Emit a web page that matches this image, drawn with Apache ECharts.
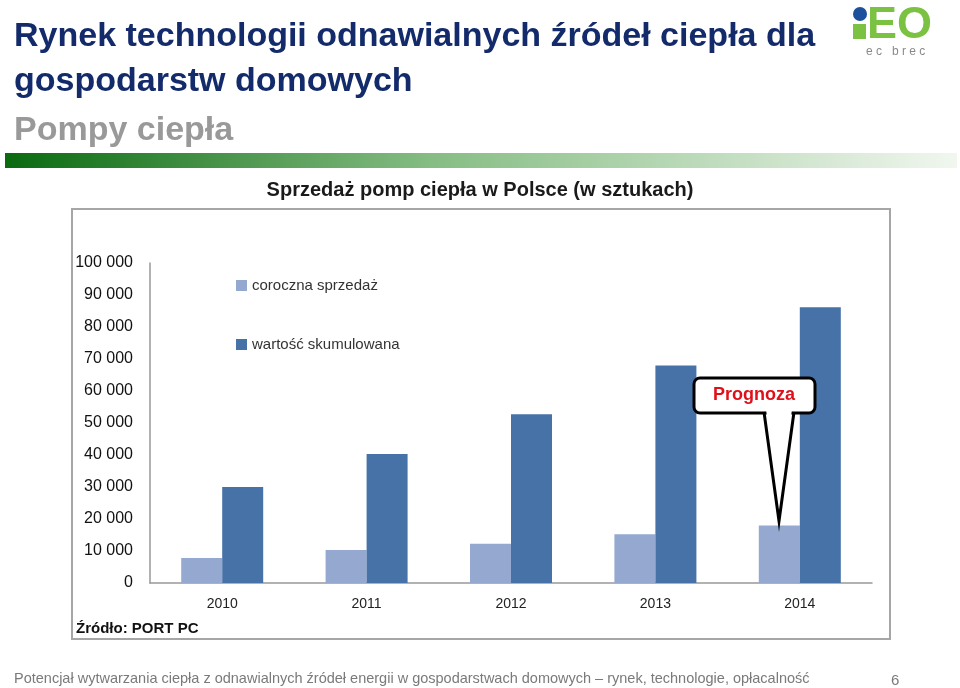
<!DOCTYPE html>
<html lang="pl">
<head>
<meta charset="utf-8">
<title>Pompy ciepła</title>
<script src="https://cdn.jsdelivr.net/npm/echarts@6/dist/echarts.min.js"></script>
<style>
  html, body { margin: 0; padding: 0; background: #fff; }
  #main { width: 960px; height: 688px; }
</style>
</head>
<body>
<div id="main"></div>
<script>
// dane
var years = ['2010', '2011', '2012', '2013', '2014'];
var annualSales = [7800, 10300, 12300, 15200, 18000];
var cumulative = [30000, 40300, 52700, 68000, 86200];
var seriesNames = ['coroczna sprzedaż', 'wartość skumulowana'];

var font = '"Liberation Sans", Arial, sans-serif';

function fmt(v) {
  return String(v).replace(/\B(?=(\d{3})+(?!\d))/g, ' ');
}

var myChart = echarts.init(document.getElementById('main'));

var option = {
  backgroundColor: '#fff',
  animation: false,
  textStyle: { fontFamily: font },
  grid: { left: 150, right: 88, top: 263, bottom: 105 },
  legend: {
    orient: 'vertical',
    left: 231, top: 273,
    itemWidth: 11, itemHeight: 11,
    itemGap: 44,
    icon: 'rect',
    textStyle: { fontSize: 15, color: '#333', fontFamily: font },
    data: seriesNames
  },
  xAxis: {
    type: 'category',
    data: years,
    axisLine: { lineStyle: { color: '#999', width: 1.5 } },
    axisTick: { show: false },
    axisLabel: { fontSize: 14, color: '#222', margin: 14 }
  },
  yAxis: {
    type: 'value',
    min: 0, max: 100000, interval: 10000,
    axisLine: { show: true, lineStyle: { color: '#999', width: 1.5 } },
    axisTick: { show: false },
    splitLine: { show: false },
    axisLabel: { fontSize: 16, color: '#111', margin: 17, formatter: fmt }
  },
  series: [
    {
      name: seriesNames[0], type: 'bar', data: annualSales,
      barWidth: 41, barGap: '0%',
      itemStyle: { color: '#95a9d0' }
    },
    {
      name: seriesNames[1], type: 'bar', data: cumulative,
      barWidth: 41,
      itemStyle: { color: '#4672a8' }
    }
  ],
  graphic: [
    // nagłówek slajdu
    { type: 'text', left: 14, top: 20, style: { text: 'Rynek technologii odnawialnych źródeł ciepła dla', font: 'bold 34px ' + font, fill: '#132a6b' } },
    { type: 'text', left: 14, top: 65, style: { text: 'gospodarstw domowych', font: 'bold 34px ' + font, fill: '#132a6b' } },
    { type: 'text', left: 14, top: 114, style: { text: 'Pompy ciepła', font: 'bold 34px ' + font, fill: '#999999' } },
    {
      type: 'rect', shape: { x: 5, y: 153, width: 952, height: 15 },
      style: {
        fill: new echarts.graphic.LinearGradient(0, 0, 1, 0, [
          { offset: 0, color: '#0a6a10' },
          { offset: 0.45, color: '#86bd84' },
          { offset: 1, color: '#f1f7ef' }
        ])
      }
    },
    // logo
    { type: 'circle', shape: { cx: 860, cy: 14, r: 7 }, style: { fill: '#1d4f9a' } },
    { type: 'rect', shape: { x: 853, y: 24, width: 13, height: 15 }, style: { fill: '#7cc242' } },
    { type: 'text', left: 867, top: 3, style: { text: 'EO', font: 'bold 45px ' + font, fill: '#7cc242' } },
    { type: 'text', left: 866, top: 46, style: { text: 'e c   b r e c', font: '12px ' + font, fill: '#8a8a8a' } },
    // ramka wykresu
    { type: 'rect', shape: { x: 72, y: 209, width: 818, height: 430 }, style: { fill: 'none', stroke: '#a6a6a6', lineWidth: 2 } },
    { type: 'text', left: 'center', top: 180, style: { text: 'Sprzedaż pomp ciepła w Polsce (w sztukach)', font: 'bold 20px ' + font, fill: '#1a1a1a' } },
    { type: 'text', left: 76, top: 621, style: { text: 'Źródło: PORT PC', font: 'bold 15px ' + font, fill: '#111' } },
    // dymek "Prognoza"
    { type: 'rect', z: 10, shape: { x: 694, y: 378, width: 121, height: 35, r: 6 }, style: { fill: '#fff', stroke: '#000', lineWidth: 3 } },
    { type: 'polygon', z: 11, shape: { points: [[766, 409], [792, 409], [779, 518]] }, style: { fill: '#fff' } },
    { type: 'polyline', z: 12, shape: { points: [[764, 412], [779, 521], [794, 412]] }, style: { stroke: '#000', lineWidth: 3, fill: 'none' } },
    { type: 'text', z: 13, left: 713, top: 386, style: { text: 'Prognoza', font: 'bold 18px ' + font, fill: '#e0101a' } },
    // stopka
    { type: 'text', left: 14, top: 671, style: { text: 'Potencjał wytwarzania ciepła z odnawialnych źródeł energii w gospodarstwach domowych – rynek, technologie, opłacalność', font: '14.5px "Liberation Sans Narrow", ' + font, fill: '#7a7a7a' } },
    { type: 'text', left: 891, top: 673, style: { text: '6', font: '15px ' + font, fill: '#7a7a7a' } }
  ]
};

myChart.setOption(option);
</script>
</body>
</html>
